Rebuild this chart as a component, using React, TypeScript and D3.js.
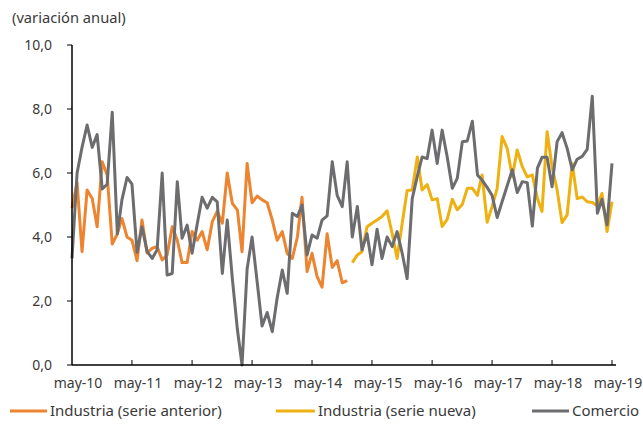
import React from "react";
import * as d3 from "d3";

const START = new Date(2010, 4, 1);
const END = new Date(2019, 4, 1);

const yTicks = [0, 2, 4, 6, 8, 10];
const xTickLabels = ["may-10", "may-11", "may-12", "may-13", "may-14", "may-15", "may-16", "may-17", "may-18", "may-19"];

// Comercio, monthly from may-10
const comercio = [
  3.33, 6.0, 6.8, 7.5, 6.8, 7.2, 5.5, 5.65, 7.9, 4.1, 5.16, 5.86, 5.65, 3.52, 4.32, 3.55, 3.33, 3.6, 6.0, 2.81,
  2.86, 5.73, 3.96, 4.37, 3.49, 4.4, 5.24, 4.9, 5.24, 5.1, 2.86, 4.53, 2.7, 1.1, 0.0, 3.0, 4.0, 2.6, 1.22, 1.64,
  1.04, 2.1, 2.97, 2.24, 4.74, 4.64, 5.0, 3.44, 4.06, 3.96, 4.53, 4.66, 6.35, 5.3, 4.95, 6.35, 4.0, 4.95, 3.6, 4.1,
  3.13, 4.24, 3.33, 4.0, 3.7, 4.17, 3.49, 2.7, 5.2, 5.9, 6.5, 6.45, 7.34, 6.3, 7.34, 6.5, 5.52, 5.83, 6.98, 7.0,
  7.62, 5.94, 5.78, 5.55, 5.3, 4.61, 5.1, 5.6, 6.1, 5.39, 5.73, 5.7, 4.34, 6.15, 6.49, 6.49, 5.57, 6.98, 7.26, 6.77,
  6.1, 6.43, 6.52, 6.74, 8.4, 4.74, 5.18, 4.38, 6.3,
];

// Industria (serie anterior), monthly from may-10
const industriaAnterior = [
  4.9, 5.7, 3.54, 5.47, 5.2, 4.32, 6.35, 5.94, 3.78, 4.1, 4.58, 4.0, 3.9, 3.26, 4.53, 3.5, 3.65, 3.7, 3.28, 3.44,
  4.32, 3.9, 3.2, 3.2, 4.17, 3.9, 4.17, 3.6, 4.48, 4.8, 4.43, 6.0, 5.05, 4.84, 3.54, 6.3, 5.07, 5.28, 5.16, 5.07,
  4.53, 3.9, 4.17, 3.49, 3.33, 4.0, 5.24, 2.92, 3.49, 2.76, 2.43, 4.1, 3.05, 3.26, 2.57, 2.64,
];
const industriaAnteriorStart = 0;

// Industria (serie nueva), monthly from jan-15
const industriaNueva = [
  3.2, 3.44, 3.54, 4.32, 4.43, 4.53, 4.64, 4.82, 4.1, 3.33, 4.43, 5.45, 5.47, 6.5, 5.47, 5.64, 5.16, 5.2, 4.33, 4.55,
  5.18, 4.85, 5.02, 5.52, 5.52, 5.3, 5.94, 4.46, 4.95, 5.52, 7.14, 6.77, 5.88, 6.72, 6.2, 5.88, 5.94, 5.2, 4.8, 7.29,
  6.2, 5.47, 4.45, 4.69, 6.3, 5.2, 5.25, 5.1, 5.08, 4.97, 5.36, 4.17, 5.1,
];
const industriaNuevaStart = 56;

const COL_ANT = "#EC8430";
const COL_NUE = "#EEB111";
const COL_COM = "#6D6D70";
const TXT = "#3a3a3a";
const FONT = "'Noto Sans', 'DejaVu Sans', sans-serif";

export default function App() {
  const W = 643, H = 424;
  const x = d3.scaleTime().domain([START, END]).range([72, 612]);
  const y = d3.scaleLinear().domain([0, 10]).range([365, 45]);
  const toPts = (arr: number[], start: number) =>
    arr.map((v, i) => ({ d: d3.timeMonth.offset(START, start + i), v }));
  const line = d3
    .line<{ d: Date; v: number }>()
    .x((p) => x(p.d))
    .y((p) => y(p.v));

  const yearTicks = xTickLabels.map((_, i) => d3.timeYear.offset(START, i));

  const series = [
    { data: toPts(industriaAnterior, industriaAnteriorStart), color: COL_ANT },
    { data: toPts(industriaNueva, industriaNuevaStart), color: COL_NUE },
    { data: toPts(comercio, 0), color: COL_COM },
  ];

  const legend = [
    { label: "Industria (serie anterior)", color: COL_ANT, x0: 10, x1: 47 },
    { label: "Industria (serie nueva)", color: COL_NUE, x0: 276, x1: 315 },
    { label: "Comercio", color: COL_COM, x0: 532, x1: 569 },
  ];

  return (
    <svg
      width={W}
      height={H}
      style={{ position: "absolute", left: 0, top: 0, background: "#fff" }}
      fontFamily={FONT}
    >
      <rect width={W} height={H} fill="#fff" />
      <text x={12} y={23} fontSize={14.7} fill={TXT}>
        (variación anual)
      </text>

      {/* y axis labels and ticks */}
      {yTicks.map((t) => (
        <g key={t}>
          <line x1={67} x2={72} y1={y(t)} y2={y(t)} stroke="#000" strokeWidth={1} />
          <text x={52} y={y(t)} dy="0.35em" textAnchor="end" fontSize={14} fill={TXT}>
            {d3.format(".1f")(t).replace(".", ",")}
          </text>
        </g>
      ))}

      {/* x ticks and labels */}
      {yearTicks.map((d, i) => (
        <g key={i}>
          {i > 0 && <line x1={x(d)} x2={x(d)} y1={365} y2={360} stroke="#000" strokeWidth={1} />}
          <text x={x(d) + 6} y={388} textAnchor="middle" fontSize={14} fill={TXT}>
            {xTickLabels[i]}
          </text>
        </g>
      ))}

      {/* series */}
      {series.map((s, i) => (
        <path
          key={i}
          d={line(s.data) || ""}
          fill="none"
          stroke={s.color}
          strokeWidth={3}
          strokeLinejoin="round"
        />
      ))}

      {/* axes lines */}
      <line x1={72} x2={72} y1={45} y2={365} stroke="#000" strokeWidth={1.5} />
      <line x1={72} x2={616} y1={365} y2={365} stroke="#000" strokeWidth={1.5} />

      {/* legend */}
      {legend.map((l) => (
        <g key={l.label}>
          <line x1={l.x0} x2={l.x1} y1={411} y2={411} stroke={l.color} strokeWidth={3} />
          <text x={l.x1 + 3} y={416} fontSize={15} fill={TXT}>
            {l.label}
          </text>
        </g>
      ))}
    </svg>
  );
}
